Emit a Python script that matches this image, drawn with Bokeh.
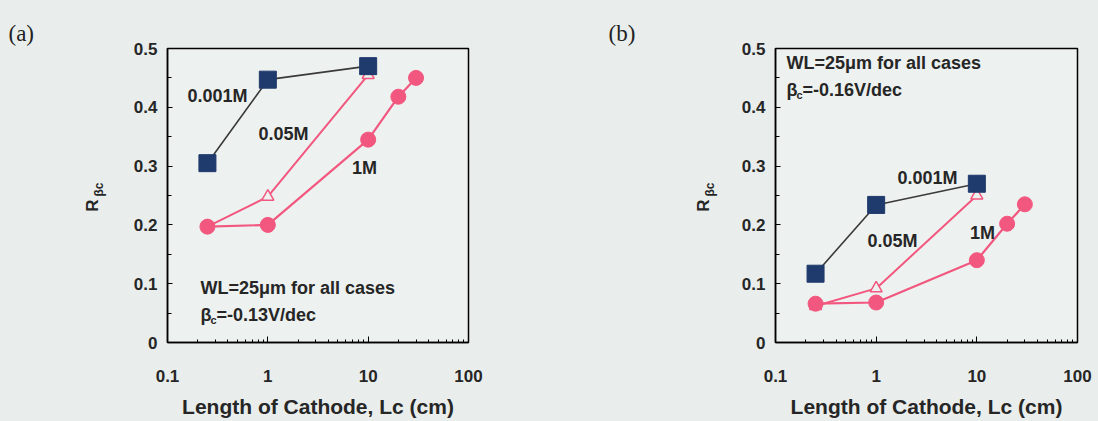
import math
from bokeh.plotting import figure
from bokeh.layouts import row
from bokeh.models import Label, FixedTicker, Range1d, CustomJSTickFormatter, Title
from bokeh.core.properties import value
from bokeh.embed import file_html
from bokeh.resources import INLINE
from jinja2 import Template

# ---------------- data ----------------
lengths_short = [0.25, 1, 10]          # Lc (cm) for 0.001M and 0.05M
lengths_long = [0.25, 1, 10, 20, 30]   # Lc (cm) for 1M

a_001M = [0.305, 0.447, 0.470]
a_005M = [0.197, 0.248, 0.455]
a_1M = [0.197, 0.200, 0.345, 0.418, 0.450]

b_001M = [0.117, 0.234, 0.270]
b_005M = [0.062, 0.092, 0.250]
b_1M = [0.066, 0.068, 0.140, 0.202, 0.235]

x_major = [0.1, 1, 10, 100]
y_major = [0, 0.1, 0.2, 0.3, 0.4, 0.5]
series_names = ["0.001M", "0.05M", "1M"]
panel_tags = ["(a)", "(b)"]
beta_values = ["=-0.13V/dec", "=-0.16V/dec"]
wl_text = "WL=25\u03bcm for all cases"
x_title = "Length of Cathode, Lc (cm)"

# ---------------- style ----------------
NAVY = "#1f3a6c"
PINK = "#f2577f"
DARK = "#3a3a3a"
TXT = "#262626"
BG = "#e9eeec"
INNER = "#edf1ef"
FONT = "Liberation Sans"

x_minor = [m * d for d in (0.1, 1, 10) for m in range(2, 10)]
y_minor = [0.05, 0.15, 0.25, 0.35, 0.45]

H = 421
TOP = 48        # border above frame
BOTTOM = 79     # border below frame
FRAME_TOP, FRAME_BOTTOM = TOP, H - BOTTOM


def side(width, tag, tag_offset, r_x):
    """Strip left of a panel: panel tag and the y-axis title R_bc.
    Its data units are page pixels (y given as -pixel from top)."""
    s = figure(width=width, height=H, x_range=Range1d(0, width),
               y_range=Range1d(-FRAME_BOTTOM, -FRAME_TOP),
               output_backend="svg", toolbar_location=None,
               x_axis_location=None, y_axis_location=None,
               min_border_left=0, min_border_right=0,
               min_border_top=TOP, min_border_bottom=BOTTOM)
    s.background_fill_color = BG
    s.border_fill_color = BG
    s.outline_line_color = None
    s.grid.visible = False
    s.add_layout(Title(text=tag, align="left", offset=tag_offset,
                       text_font="Liberation Serif", text_font_style="normal",
                       text_font_size="23px", text_color="#222222",
                       standoff=6, vertical_align="bottom"), "above")
    s.text(x=[r_x], y=[-205], text=["R"], angle=math.pi / 2,
           text_font=value(FONT), text_font_style=value("bold"),
           text_font_size=value("17px"), text_color=TXT,
           text_align="center", text_baseline="middle")
    s.text(x=[r_x + 6], y=[-189], text=["\u03b2c"], angle=math.pi / 2,
           text_font=value(FONT), text_font_style=value("bold"),
           text_font_size=value("12px"), text_color=TXT,
           text_align="center", text_baseline="middle")
    return s


def make_panel(y001, y005, y1, beta_rest, width, right, ann):
    p = figure(width=width, height=H, x_axis_type="log",
               x_range=Range1d(0.1, 100), y_range=Range1d(0, 0.5),
               output_backend="svg", toolbar_location=None,
               min_border_left=45, min_border_right=right,
               min_border_top=TOP, min_border_bottom=BOTTOM)
    p.background_fill_color = INNER
    p.border_fill_color = BG
    p.outline_line_color = "black"
    p.outline_line_width = 1.5
    p.grid.visible = False

    xa = p.xaxis[0]
    xa.ticker = FixedTicker(ticks=x_major, minor_ticks=x_minor)
    xa.formatter = CustomJSTickFormatter(code="return tick.toString();")
    xa.major_tick_in = 6
    xa.major_tick_out = 0
    xa.minor_tick_in = 3
    xa.minor_tick_out = 0
    xa.major_label_standoff = 27
    xa.axis_label = x_title
    xa.axis_label_standoff = 10
    xa.axis_label_text_font = FONT
    xa.axis_label_text_font_style = "bold"
    xa.axis_label_text_font_size = "21px"
    xa.axis_label_text_color = TXT

    ya = p.yaxis[0]
    ya.ticker = FixedTicker(ticks=y_major, minor_ticks=y_minor)
    ya.formatter = CustomJSTickFormatter(
        code="return tick === 0 ? '0' : tick.toFixed(1);")
    ya.major_tick_in = 5
    ya.major_tick_out = 0
    ya.minor_tick_in = 4
    ya.minor_tick_out = 0
    ya.major_label_standoff = 10

    for ax in (xa, ya):
        ax.axis_line_color = "black"
        ax.axis_line_width = 1.5
        ax.major_tick_line_color = "black"
        ax.minor_tick_line_color = "black"
        ax.major_label_text_font = FONT
        ax.major_label_text_font_style = "bold"
        ax.major_label_text_font_size = "17px"
        ax.major_label_text_color = TXT

    # series
    p.line(lengths_short, y005, line_color=PINK, line_width=2)
    p.scatter(lengths_short, y005, marker="triangle", size=12,
              line_color=PINK, line_width=1.5, fill_color=INNER)
    p.line(lengths_long, y1, line_color=PINK, line_width=2.2)
    p.scatter(lengths_long, y1, marker="circle", size=15,
              line_color=PINK, fill_color=PINK)
    p.line(lengths_short, y001, line_color=DARK, line_width=1.6)
    p.scatter(lengths_short, y001, marker="square", size=17,
              line_color=NAVY, fill_color=NAVY)

    def lab(text, x, y, size="18px", align="left", xo=0, yo=0):
        p.add_layout(Label(x=x, y=y, text=text, x_offset=xo, y_offset=yo,
                           text_font=FONT, text_font_style="bold",
                           text_font_size=size, text_color=TXT,
                           text_align=align, text_baseline="middle"))

    for name, (lx, ly) in zip(series_names, ann["names"]):
        lab(name, lx, ly, align="center")
    wx, wy = ann["wl"]
    lab(wl_text, wx, wy)
    bx, by = ann["beta"]
    lab("\u03b2", bx, by)
    lab("c", bx, by, size="11px", xo=10, yo=-5)
    lab(beta_rest, bx, by, xo=16)
    return p


sa = side(122, panel_tags[0], 8, 92)
pa = make_panel(a_001M, a_005M, a_1M, beta_values[0], 423, 77,
                {"names": [(0.315, 0.420), (1.43, 0.355), (9.2, 0.296)],
                 "wl": (0.213, 0.092), "beta": (0.213, 0.046)})
sb = side(185, panel_tags[1], 63, 158)
pb = make_panel(b_001M, b_005M, b_1M, beta_values[1], 368, 21,
                {"names": [(3.23, 0.279), (1.45, 0.173), (11.4, 0.187)],
                 "wl": (0.1286, 0.476), "beta": (0.1286, 0.430)})

layout = row(sa, pa, sb, pb)

template = Template("""
{% extends base %}
{% block postamble %}
<style>body { background: #e9eeec; }</style>
{% endblock %}
""")

open("out.html", "w").write(file_html(layout, INLINE, template=template))
